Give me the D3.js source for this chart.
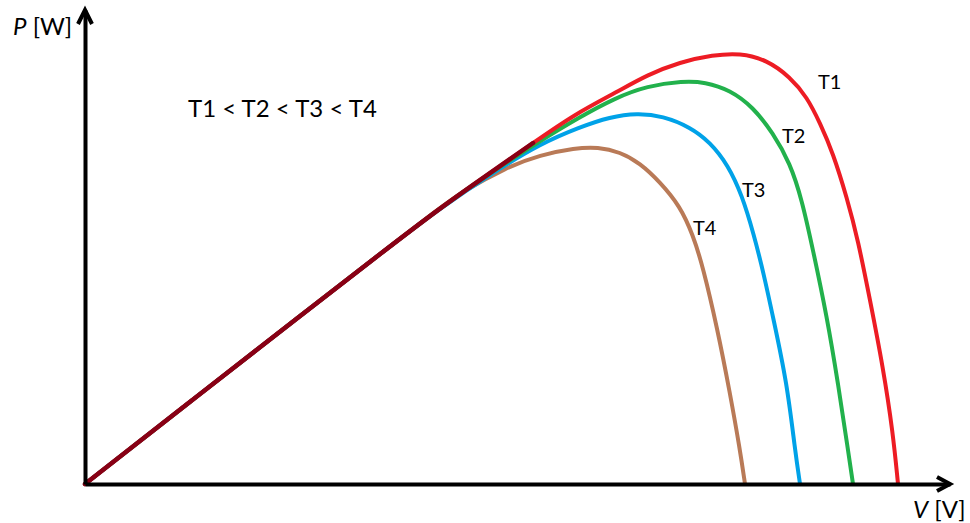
<!DOCTYPE html>
<html>
<head>
<meta charset="utf-8">
<script src="https://cdn.jsdelivr.net/npm/d3@7/dist/d3.min.js"></script>
<style>
  html, body { margin: 0; padding: 0; background: #fff; }
  svg { display: block; }
  text { font-family: Lato, "Open Sans", sans-serif; fill: #000; }
</style>
</head>
<body>
<script>
// P-V curves of a solar panel at four temperatures
// V in volts, P in watts

// shared, nearly linear start of all curves
var common = [[0, 0], [5.75, 45], [10.75, 84], [14.75, 115], [17.75, 138], [20.25, 155.5], [22.4, 170.5]];

// the part of each curve after it leaves the common line
var t1 = [[24.5, 185], [26.6, 196], [28.1, 204.5], [29.75, 211], [31.4, 214.5], [32.75, 215.5],
          [34.1, 212], [35.25, 203.5], [36.1, 193.5], [36.75, 180.5], [37.4, 165.5], [38.1, 143],
          [38.65, 122], [39.25, 92], [39.9, 58.5], [40.4, 25.5], [40.65, 0]];
var t2 = [[22.75, 171.5], [24.65, 183], [26.5, 193], [28.1, 199], [29.9, 201.5], [31, 201],
          [32.25, 197], [33.4, 188.5], [34.4, 175.5], [35.25, 160.5], [35.85, 142], [36.4, 117],
          [37.1, 83.5], [37.65, 50.5], [38.15, 17], [38.4, 0]];
var t3 = [[20.6, 157], [22.75, 170], [24.75, 178.5], [26.25, 183.5], [27.6, 185.5], [28.9, 184],
          [30.25, 178.5], [31.25, 171], [32.15, 159.5], [32.85, 144.5], [33.45, 124.5], [33.95, 104.5],
          [34.4, 83.5], [35.1, 50.5], [35.5, 17], [35.75, 0]];
var t4 = [[18.75, 145.5], [21.1, 158.5], [22.75, 164.5], [24.5, 168], [25.65, 168.5], [26.75, 166],
          [27.75, 160.5], [28.75, 151], [29.75, 139], [30.4, 124.5], [30.9, 108.5], [31.6, 78.5],
          [32.25, 45.5], [32.75, 17], [33, 0]];

var seriesNames = ["T1", "T2", "T3", "T4"];
var seriesTails = [t1, t2, t3, t4];
var seriesColors = ["#ed1c24", "#22b14c", "#00a2e8", "#b97a57"];
var commonColor = "#880015";

var vMax = 43.25, pMax = 237;

var width = 970, height = 523;
var svg = d3.select("body").append("svg")
    .attr("width", width)
    .attr("height", height);

var x = d3.scaleLinear().domain([0, vMax]).range([85, 950]);
var y = d3.scaleLinear().domain([0, pMax]).range([484, 10]);

// basis spline smooths out small reading errors in the points
var line = d3.line()
    .x(d => x(d[0]))
    .y(d => y(d[1]))
    .curve(d3.curveBasis);

// full curve = common start up to where the tail begins, then the tail
function fullCurve(tail) {
    return common.filter(p => p[0] < tail[0][0] - 0.8).concat(tail);
}

// draw T4 first so T1 ends up on top
for (var i = seriesTails.length - 1; i >= 0; i--) {
    svg.append("path")
        .attr("d", line(fullCurve(seriesTails[i])))
        .attr("fill", "none")
        .attr("stroke", seriesColors[i])
        .attr("stroke-width", 4)
        .attr("stroke-linecap", "round");
}

svg.append("path")
    .attr("d", line(common))
    .attr("fill", "none")
    .attr("stroke", commonColor)
    .attr("stroke-width", 4.5)
    .attr("stroke-linecap", "round");

// axes without ticks, just thick lines with arrow heads
var xAxis = svg.append("g")
    .attr("transform", "translate(0," + y(0) + ")")
    .call(d3.axisBottom(x).tickValues([]).tickSizeOuter(0));
var yAxis = svg.append("g")
    .attr("transform", "translate(" + x(0) + ",0)")
    .call(d3.axisLeft(y).tickValues([]).tickSizeOuter(0));
[xAxis, yAxis].forEach(function(a) {
    a.select(".domain").attr("stroke", "#000").attr("stroke-width", 4);
});

var xTip = x(vMax), yTip = y(pMax);
svg.append("path")
    .attr("d", "M" + (xTip - 13) + "," + (y(0) - 7) + "L" + xTip + "," + y(0) + "L" + (xTip - 13) + "," + (y(0) + 7))
    .attr("fill", "none").attr("stroke", "#000").attr("stroke-width", 4);
svg.append("path")
    .attr("d", "M" + (x(0) - 7) + "," + (yTip + 14) + "L" + x(0) + "," + yTip + "L" + (x(0) + 7) + "," + (yTip + 14))
    .attr("fill", "none").attr("stroke", "#000").attr("stroke-width", 4);

// axis titles
var pLabel = svg.append("text").attr("x", 13).attr("y", 35).attr("font-size", 24);
pLabel.append("tspan").attr("font-style", "italic").text("P");
pLabel.append("tspan").text(" [W]");

var vLabel = svg.append("text").attr("x", 913).attr("y", 518).attr("font-size", 24);
vLabel.append("tspan").attr("font-style", "italic").text("V");
vLabel.append("tspan").text(" [V]");

svg.append("text")
    .attr("x", 188).attr("y", 117)
    .attr("font-size", 24)
    .text("T1 < T2 < T3 < T4");

// curve labels, placed next to each curve (in data units)
var labelSpots = [[36.65, 197.5], [34.85, 170.5], [32.85, 143.5], [30.4, 124.5]];
seriesNames.forEach(function(name, i) {
    svg.append("text")
        .attr("x", x(labelSpots[i][0]))
        .attr("y", y(labelSpots[i][1]))
        .attr("font-size", 20)
        .text(name);
});
</script>
</body>
</html>
